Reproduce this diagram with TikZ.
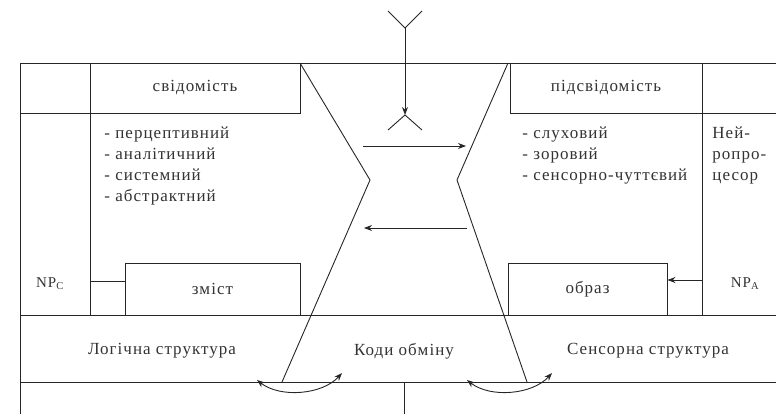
\documentclass[tikz,border=0pt]{standalone}
\usepackage{fontspec}
\setmainfont{Liberation Serif}[LetterSpace=6]
\usetikzlibrary{arrows.meta}
\begin{document}
\begin{tikzpicture}[x=1pt, y=-1pt, line width=0.9pt, draw=black!85, >={Stealth[length=8pt, width=6pt]},
  every node/.style={font=\fontsize{17}{21}\selectfont, inner sep=0pt, text=black!80},
  box/.style={draw, line width=0.9pt},
  np/.style={font=\fontsize{15}{17}\selectfont}]
  \useasboundingbox (0,0) rectangle (776,414);

  % frame
  \draw (20,414) -- (20,63) -- (776,63);
  \draw (20,315) -- (776,315);
  \draw (20,382) -- (776,382);
  \draw (404,382) -- (404,414);
  \draw (20,113) -- (90,113);
  \draw (90,63) -- (90,315);
  \draw (702,63) -- (702,315);
  \draw (702,113) -- (776,113);

  % upper boxes
  \node[box, minimum width=210pt, minimum height=50pt] (svid) at (195,88) {свідомість};
  \node[box, minimum width=192pt, minimum height=50pt] (pidsvid) at (606,88) {підсвідомість};

  % lists
  \node[anchor=north west, align=left] (logic) at (104,126) {- перцептивний\\- аналітичний\\- системний\\- абстрактний};
  \node[anchor=north west, align=left] (sens) at (522,126) {- слуховий\\- зоровий\\- сенсорно-чуттєвий};
  \node[anchor=north west, align=left] (neuro) at (712,126) {Ней-\\ропро-\\цесор};

  % lower boxes
  \node[box, minimum width=175pt, minimum height=52pt] (zmist) at (212.5,289) {зміст};
  \node[box, minimum width=159pt, minimum height=52pt] (obraz) at (587.5,289) {образ};
  \node[np] (npc) at (50,284) {NP\textsubscript{C}};
  \node[np] (npa) at (745,284) {NP\textsubscript{A}};
  \coordinate (cl) at (90,281);
  \coordinate (ca) at (702,280);
  \draw (cl) -- (cl -| zmist.west);
  \draw[->] (ca) -- (ca -| obraz.east);

  % structures
  \node (lstr) at (162,351) {Логічна структура};
  \node (kody) at (404,351) {Коди обміну};
  \node (sstr) at (648,351) {Сенсорна структура};

  % hourglass
  \draw (300,63) -- (370,180) -- (282,382);
  \draw (508,63) -- (457,180) -- (527,382);

  % input from above
  \coordinate (ant) at (405,28);
  \coordinate (rec) at (405,115);
  \draw (388,11) -- (ant) -- (422,11);
  \draw[->] (ant) -- (rec);
  \draw (388,130) -- (rec) -- (422,130);

  % exchange arrows
  \coordinate (a1) at (363,146);
  \coordinate (a2) at (466,146);
  \coordinate (b1) at (467,228);
  \coordinate (b2) at (364,228);
  \draw[->] (a1) -- (a2);
  \draw[->] (b1) -- (b2);
  \draw[<->] (257,380) .. controls (280,398) and (322,395) .. (342,373);
  \draw[<->] (467,380) .. controls (490,398) and (532,395) .. (552,373);
\end{tikzpicture}
\end{document}
